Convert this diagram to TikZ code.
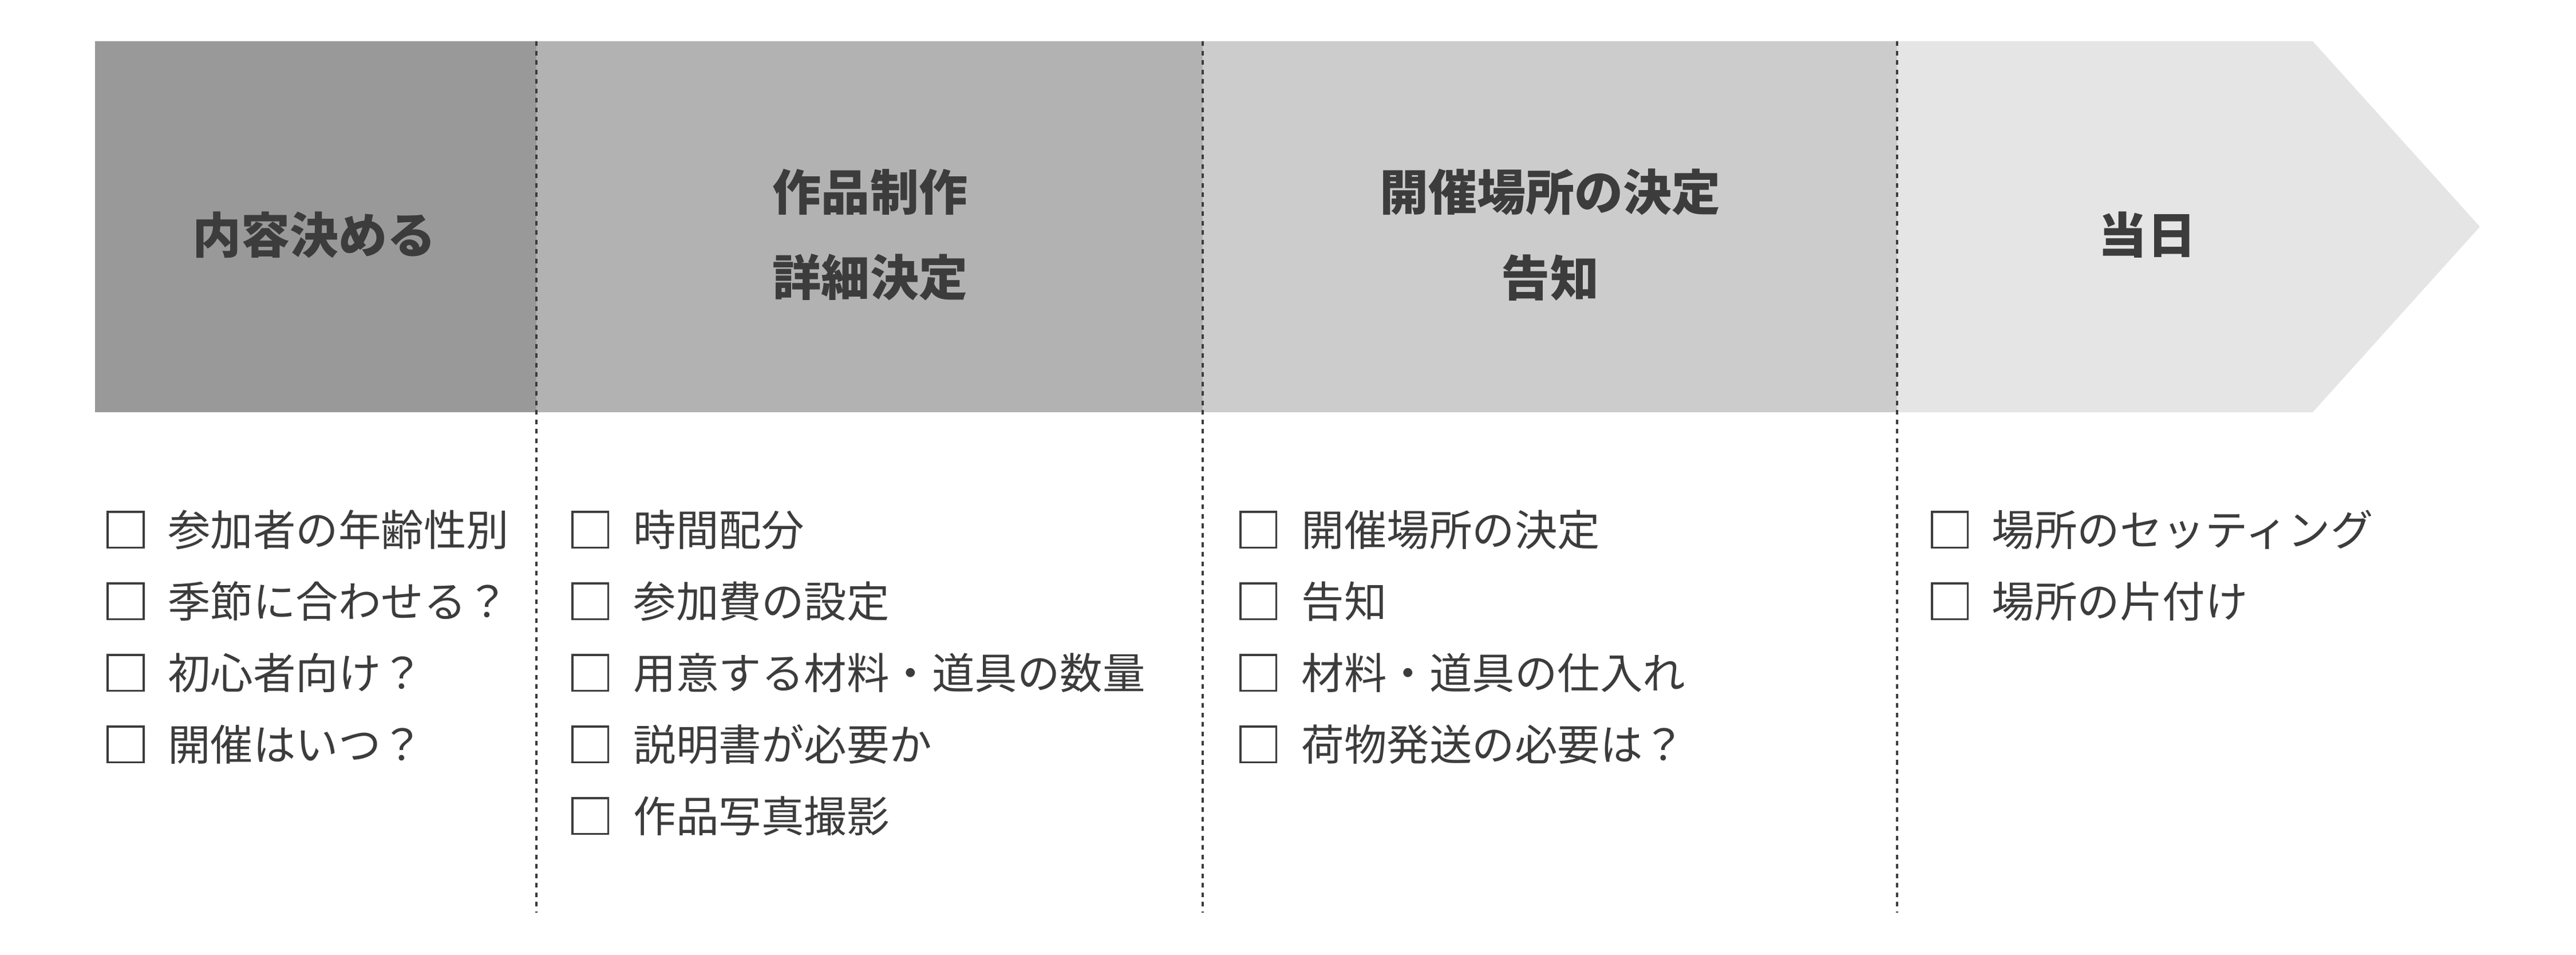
\documentclass[tikz,border=0pt]{standalone}
\usepackage{fontspec}
\newfontfamily\jp{Noto Sans CJK JP}
\usepackage{tikz}
\usetikzlibrary{positioning}

\definecolor{inkgray}{RGB}{60,60,60}
\definecolor{bandA}{RGB}{153,153,153}
\definecolor{bandB}{RGB}{178,178,178}
\definecolor{bandC}{RGB}{204,204,204}
\definecolor{bandD}{RGB}{229,229,229}

\begin{document}
\begin{tikzpicture}[font=\jp, text=inkgray,
  phase/.style={font=\jp\bfseries\fontsize{24.2}{42.5}\selectfont, align=center, inner sep=0pt},
  item/.style={font=\jp\fontsize{21.2}{25}\selectfont, inner sep=0pt},
  checkbox/.style={draw=inkgray, line width=1pt, minimum size=0.625cm, inner sep=0pt},
  divider/.style={draw=inkgray, line width=1.1pt, dash pattern=on 2.3pt off 2.4pt}]
  \useasboundingbox (0,0) rectangle (45,16.67);

  % Draw the phase bands
  \fill[bandA] (1.66,9.47) rectangle (9.37,15.95);
  \fill[bandB] (9.37,9.47) rectangle (21.01,15.95);
  \fill[bandC] (21.01,9.47) rectangle (33.14,15.95);
  \fill[bandD] (33.14,9.47) -- (40.40,9.47) -- (43.32,12.71) -- (40.40,15.95) -- (33.14,15.95) -- cycle;

  % Draw dashed dividers between phases
  \foreach \x in {9.37,21.01,33.14} {
    \draw[divider] (\x,15.95) -- (\x,0.73);
  }

  % Phase titles
  \node[phase] (naiyo) at (5.49,12.57) {内容決める};
  \node[phase] (seisaku) at (15.20,12.57) {作品制作\\詳細決定};
  \node[phase] (kokuchi) at (27.08,12.57) {開催場所の決定\\告知};
  \node[phase] (toujitsu) at (37.51,12.57) {当日};

  % Check lists under each phase
  \foreach \t [count=\i] in {参加者の年齢性別,季節に合わせる？,初心者向け？,開催はいつ？} {
    \node[checkbox] (naiyo-box-\i) at (2.195,{7.42-1.25*(\i-1)}) {};
    \node[item, right=0.40cm of naiyo-box-\i] (naiyo-\i) {\t};
  }
  \foreach \t [count=\i] in {時間配分,参加費の設定,用意する材料・道具の数量,説明書が必要か,作品写真撮影} {
    \node[checkbox] (seisaku-box-\i) at (10.31,{7.42-1.25*(\i-1)}) {};
    \node[item, right=0.42cm of seisaku-box-\i] (seisaku-\i) {\t};
  }
  \foreach \t [count=\i] in {開催場所の決定,告知,材料・道具の仕入れ,荷物発送の必要は？} {
    \node[checkbox] (kokuchi-box-\i) at (21.98,{7.42-1.25*(\i-1)}) {};
    \node[item, right=0.42cm of kokuchi-box-\i] (kokuchi-\i) {\t};
  }
  \foreach \t [count=\i] in {場所のセッティング,場所の片付け} {
    \node[checkbox] (toujitsu-box-\i) at (34.06,{7.42-1.25*(\i-1)}) {};
    \node[item, right=0.40cm of toujitsu-box-\i] (toujitsu-\i) {\t};
  }
\end{tikzpicture}
\end{document}
